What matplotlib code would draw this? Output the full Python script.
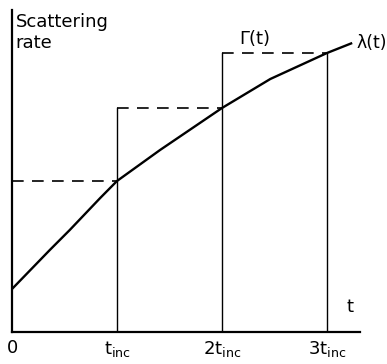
"""Scattering rate lambda(t) with the piecewise-constant bound Gamma(t)."""

import matplotlib
matplotlib.use("Agg")
import matplotlib.pyplot as plt

# --- Data (t in units of t_inc) ---
T_CURVE = [0.0, 0.36, 0.55, 0.84, 1.0, 1.41, 2.0, 2.46, 3.0, 3.24]
LAMBDA = [0.43, 0.82, 1.02, 1.34, 1.51, 1.82, 2.24, 2.53, 2.79, 2.89]
STEP_EDGES = [0, 1, 2, 3]
GAMMA_LEVELS = [1.51, 2.24, 2.79]
TICK_POS = [0, 1, 2, 3]
TICK_LABELS = ["0", r"$\mathrm{t}_{\mathrm{inc}}$", r"$\mathrm{2t}_{\mathrm{inc}}$",
               r"$\mathrm{3t}_{\mathrm{inc}}$"]

plt.rcParams.update({
    "font.family": "DejaVu Sans",
    "mathtext.fontset": "dejavusans",
})

W, H = 387, 364
fig = plt.figure(figsize=(W / 100, H / 100), dpi=100)
# axes box in pixels: left 12, right 360, bottom 332, top 10
ax = fig.add_axes([12 / W, (H - 332) / H, 348 / W, 322 / H])
ax.set_xlim(0, 348 / 105)
ax.set_ylim(0, 3.22)

for s in ["top", "right"]:
    ax.spines[s].set_visible(False)
for s in ["left", "bottom"]:
    ax.spines[s].set_linewidth(1.6)
    ax.spines[s].set_color("black")

# lambda(t)
ax.plot(T_CURVE, LAMBDA, color="black", lw=1.7, solid_capstyle="butt")

# Gamma(t): dashed tops, thin solid verticals
for i, g in enumerate(GAMMA_LEVELS):
    ax.plot([STEP_EDGES[i], STEP_EDGES[i + 1]], [g, g], color="black", lw=1.2,
            dashes=(7, 5))
for i in range(1, len(STEP_EDGES)):
    top = GAMMA_LEVELS[min(i, len(GAMMA_LEVELS) - 1)]
    ax.plot([STEP_EDGES[i], STEP_EDGES[i]], [0, top], color="black", lw=1.0)

ax.set_xticks(TICK_POS)
ax.set_xticklabels(TICK_LABELS, fontsize=13)
ax.tick_params(axis="x", length=0, pad=5)
ax.set_yticks([])

ax.text(0.035, 3.19, "Scattering\nrate", fontsize=13, ha="left", va="top",
        linespacing=1.2)
ax.text(2.31, 2.84, "Γ(t)", fontsize=13, ha="center", va="bottom")
ax.text(3.28, 2.89, "λ(t)", fontsize=12.5, ha="left", va="center")
ax.text(3.22, 0.25, "t", fontsize=13, ha="center", va="center")

fig.savefig("out.png", dpi=100)
